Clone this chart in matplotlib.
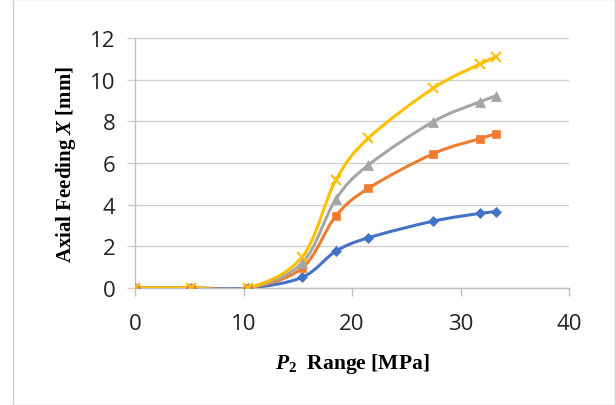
import numpy as np
import matplotlib
matplotlib.use("Agg")
import matplotlib.pyplot as plt
from matplotlib.path import Path
from matplotlib.patches import Rectangle, PathPatch

pressure = [0, 5.2, 10.4, 15.4, 18.5, 21.5, 27.5, 31.8, 33.3]
series_blue = [0, 0, 0, 0.51, 1.76, 2.41, 3.21, 3.58, 3.66]
series_orange = [0, 0, 0, 0.96, 3.45, 4.78, 6.45, 7.17, 7.41]
series_gray = [0, 0, 0, 1.2, 4.25, 5.9, 7.99, 8.94, 9.22]
series_yellow = [0, 0, 0, 1.49, 5.17, 7.19, 9.59, 10.75, 11.1]

series = [
    (series_blue, "#4472C4", "D", 5),
    (series_orange, "#ED7D31", "s", 6),
    (series_gray, "#A5A5A5", "^", 7),
    (series_yellow, "#FFC000", "x", 7),
]

plt.rcParams['mathtext.fontset'] = 'custom'
plt.rcParams['mathtext.rm'] = 'Liberation Serif:bold'
plt.rcParams['mathtext.it'] = 'Liberation Serif:italic:bold'
plt.rcParams['mathtext.bf'] = 'Liberation Serif:bold'


def smooth_path(x, y):
    """Excel-style smoothed Bezier through points."""
    pts = np.column_stack([x, y]).astype(float)
    n = len(pts)
    verts = [pts[0]]
    codes = [Path.MOVETO]
    for i in range(n - 1):
        p0 = pts[i - 1] if i > 0 else pts[i]
        p1 = pts[i]
        p2 = pts[i + 1]
        p3 = pts[i + 2] if i + 2 < n else pts[i + 1]
        c1 = p1 + (p2 - p0) / 6.0
        c2 = p2 - (p3 - p1) / 6.0
        verts += [c1, c2, p2]
        codes += [Path.CURVE4] * 3
    return Path(verts, codes)


fig = plt.figure(figsize=(6.16, 4.06), dpi=100)
ax = fig.add_axes([135 / 616, 1 - 289 / 406, 434 / 616, 250 / 406])

for ys, color, marker, ms in series:
    p = smooth_path(pressure, ys)
    ax.add_patch(PathPatch(p, facecolor='none', edgecolor=color, lw=2.2, zorder=3))
    ax.plot(pressure, ys, linestyle='none', marker=marker, color=color,
            markersize=ms, markeredgewidth=1.5 if marker == 'x' else 0.5, zorder=4)

ax.set_xlim(0, 40)
ax.set_ylim(0, 12)
ax.set_xticks([0, 10, 20, 30, 40])
ax.set_yticks([0, 2, 4, 6, 8, 10, 12])
ax.grid(axis='y', color='#D0D0D0', lw=1.0)
ax.set_axisbelow(True)
for s in ['top', 'right']:
    ax.spines[s].set_visible(False)
for s in ['left', 'bottom']:
    ax.spines[s].set_color('#BFBFBF')
    ax.spines[s].set_linewidth(1.0)
ax.tick_params(axis='x', length=6, width=1, color='#BFBFBF', labelsize=16, pad=12, direction='out')
ax.tick_params(axis='y', length=6, width=1, color='#D0D0D0', labelsize=16, pad=8, direction='out')
for lab in ax.get_xticklabels() + ax.get_yticklabels():
    lab.set_fontfamily('Open Sans')
    lab.set_color('#222222')

ax.set_ylabel(r'Axial Feeding $X$ [mm]', family='Liberation Serif', weight='bold',
              fontsize=15, labelpad=9)
ax.set_xlabel(r'$P_{\mathit{2}}$  Range [MPa]', family='Liberation Serif', weight='bold',
              fontsize=15.5, labelpad=12)

fig.patches.append(Rectangle((13 / 616, 0.0), 1 - 14 / 616, 1.0, transform=fig.transFigure,
                             fill=False, edgecolor='#D0D0D0', lw=1.0))

fig.savefig('out.png', dpi=100)
